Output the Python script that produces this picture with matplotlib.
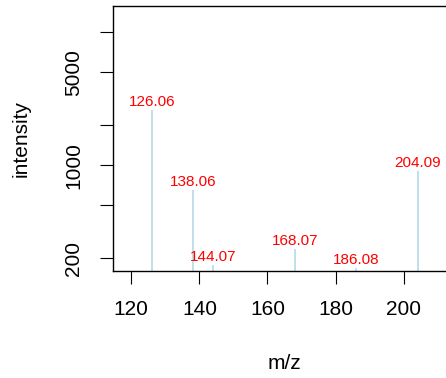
import matplotlib
matplotlib.use("Agg")
import matplotlib.pyplot as plt

# peaks
mz = [126.06, 138.06, 144.07, 168.07, 186.08, 204.09]
intensity = [2600, 650, 178, 235, 168, 905]
peak_labels = ["126.06", "138.06", "144.07", "168.07", "186.08", "204.09"]

xticks = [120, 140, 160, 180, 200]
yticks = [200, 500, 1000, 2000, 5000, 10000]
ytick_labels = ["200", "", "1000", "", "5000", ""]

plt.rcParams["font.family"] = ["Liberation Sans", "DejaVu Sans"]

W, H = 446, 378
fig = plt.figure(figsize=(W / 100, H / 100), dpi=100)
left, right, top, bottom = 112.7, 457.0, 5.7, 270.7
ax = fig.add_axes([left / W, 1 - bottom / H, (right - left) / W, (bottom - top) / H])

ax.set_yscale("log")
ax.set_xlim(114.54, 114.54 + (right - left) / 3.405)
ax.set_ylim(161.4, 15860)

ax.vlines(mz, 161.4, intensity, color="lightblue", lw=1.1)
for x, y, s in zip(mz, intensity, peak_labels):
    ax.annotate(s, (x, y), xytext=(0, 1), textcoords="offset points",
                ha="center", va="bottom", color="red", fontsize=11)

ax.set_xticks(xticks)
ax.set_xticklabels([str(t) for t in xticks])
ax.set_yticks(yticks)
ax.set_yticklabels(ytick_labels, rotation=90, va="center")
ax.minorticks_off()
ax.tick_params(direction="out", length=9.4, width=0.8, labelsize=15, pad=12)
ax.tick_params(axis="y", pad=12)
for sp in ax.spines.values():
    sp.set_linewidth(1.0)

ax.set_xlabel("m/z", fontsize=15, labelpad=25)
ax.set_ylabel("intensity", fontsize=15, labelpad=24)

fig.savefig("out.png", dpi=100)
